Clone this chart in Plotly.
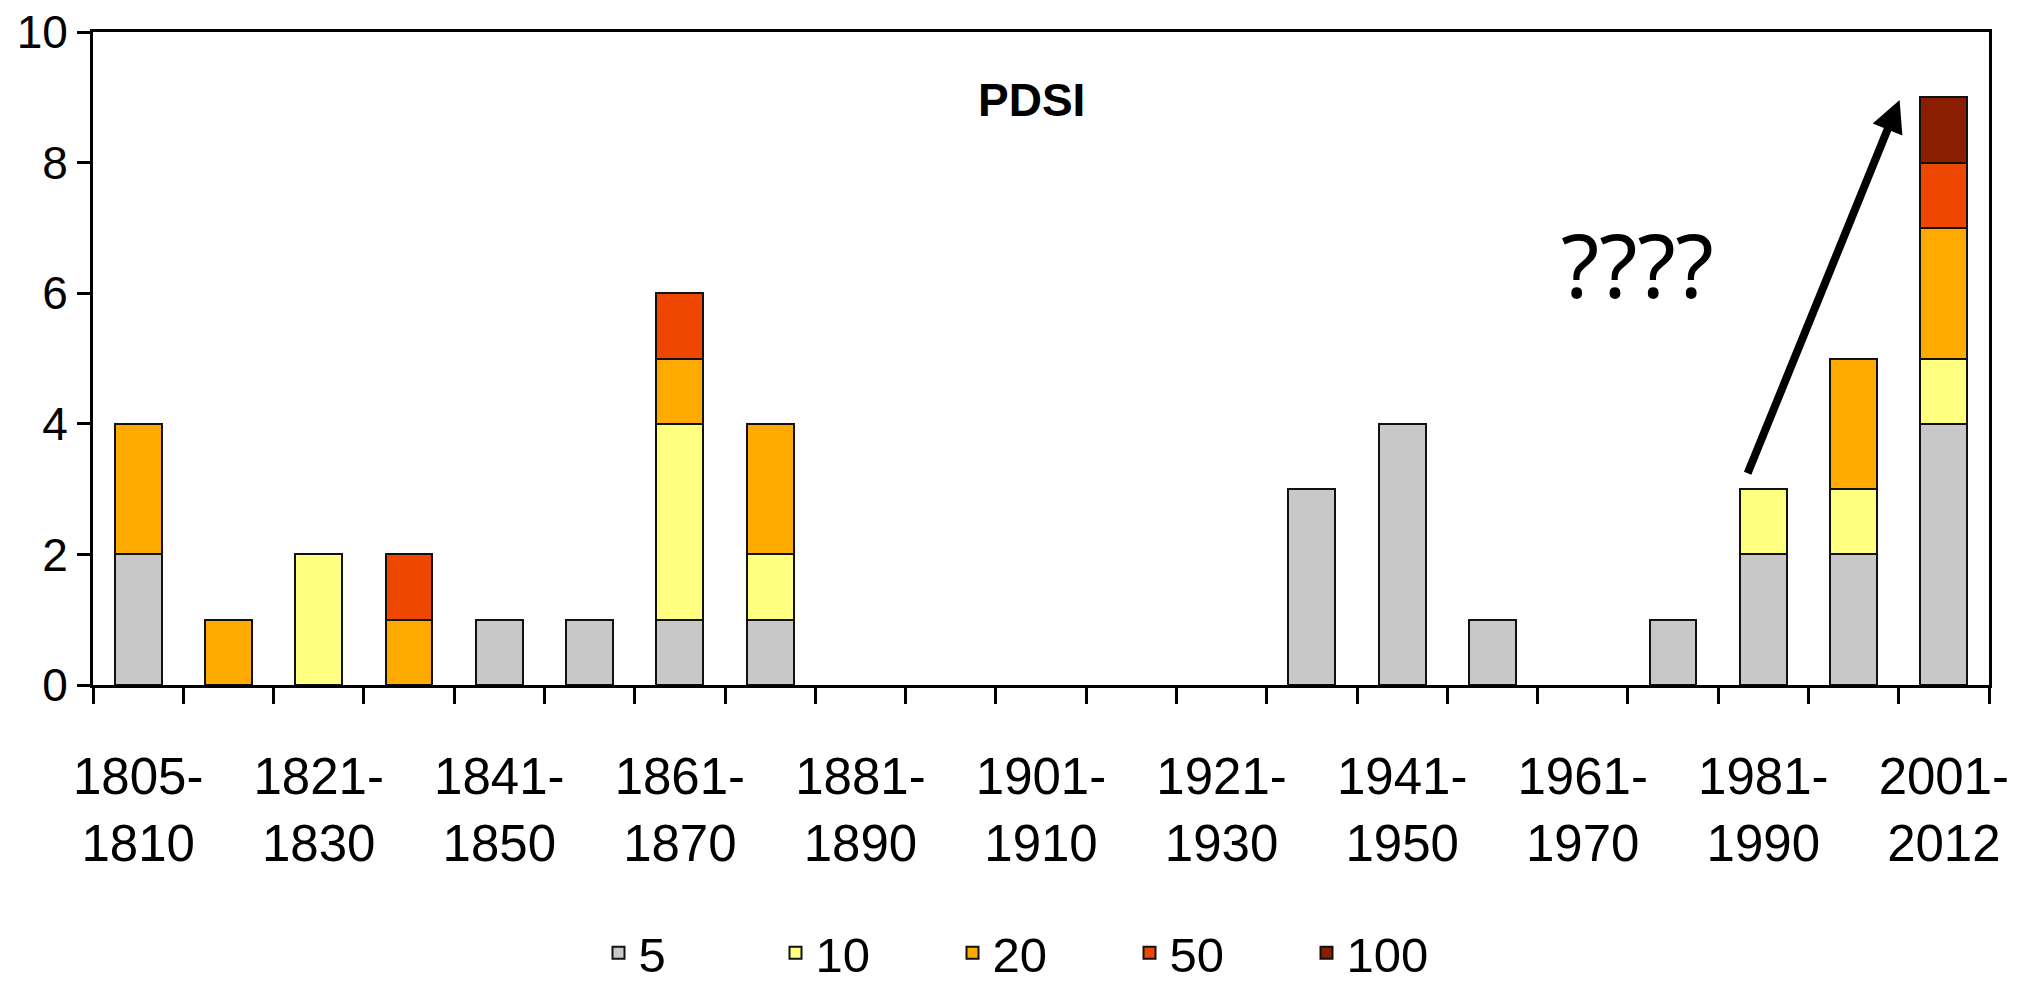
import plotly.graph_objects as go

categories = ["1805-1810", "1811-1820", "1821-1830", "1831-1840", "1841-1850",
              "1851-1860", "1861-1870", "1871-1880", "1881-1890", "1891-1900",
              "1901-1910", "1911-1920", "1921-1930", "1931-1940", "1941-1950",
              "1951-1960", "1961-1970", "1971-1980", "1981-1990", "1991-2000",
              "2001-2012"]

s5   = [2, None, None, None, 1, 1, 1, 1, None, None, None, None, None, 3, 4, 1, None, 1, 2, 2, 4]
s10  = [None, None, 2, None, None, None, 3, 1, None, None, None, None, None, None, None, None, None, None, 1, 1, 1]
s20  = [2, 1, None, 1, None, None, 1, 2, None, None, None, None, None, None, None, None, None, None, None, 2, 2]
s50  = [None, None, None, 1, None, None, 1, None, None, None, None, None, None, None, None, None, None, None, None, None, 1]
s100 = [None] * 20 + [1]

series_names = ["5", "10", "20", "50", "100"]
series_values = [s5, s10, s20, s50, s100]
series_colors = ["#C8C8C8", "#FFFF80", "#FFAA00", "#EE4800", "#8A1E00"]

label_every = 2
tick_labels = [c.replace("-", "-<br>") for c in categories[::label_every]]

x = list(range(len(categories)))

FONT = "Liberation Sans Narrow, Arial Narrow, Liberation Sans, Arial, sans-serif"

fig = go.Figure()
for name, vals, col in zip(series_names, series_values, series_colors):
    fig.add_trace(go.Bar(
        x=x, y=vals, name=name, width=0.52,
        marker=dict(color=col, line=dict(color="#111111", width=2)),
    ))

# the page body has an 8px margin, so the figure is sized/offset to compensate
fig.update_layout(
    width=2013, height=974,
    barmode="stack",
    plot_bgcolor="white", paper_bgcolor="white",
    margin=dict(l=85, r=32, t=24, b=297),
    font=dict(family=FONT, size=51, color="black"),
    legend=dict(orientation="h", x=0.5, xanchor="center", xref="paper",
                y=0.03, yanchor="middle", yref="container",
                font=dict(size=49), entrywidth=132, entrywidthmode="pixels",
                traceorder="normal"),
    annotations=[
        dict(text="<b>PDSI</b>", x=0.495, xref="paper", y=0.896, yref="paper",
             xanchor="center", yanchor="middle",
             showarrow=False, font=dict(family="Liberation Sans, Arial, sans-serif", size=46)),
        dict(text="????", x=16.61, xref="x", y=6.45, yref="y", showarrow=False,
             xanchor="center", yanchor="middle",
             font=dict(family="Noto Sans, Open Sans, sans-serif", size=88)),
        dict(x=19.51, y=8.96, xref="x", yref="y", ax=17.82, ay=3.22, axref="x", ayref="y",
             showarrow=True, arrowhead=2, arrowsize=0.8, arrowwidth=8, arrowcolor="black",
             text=""),
    ],
)

fig.update_xaxes(
    range=[-0.5, len(categories) - 0.5], automargin=False, ticklabeloverflow="allow",
    tickmode="array", tickvals=x[::label_every], ticktext=tick_labels,
    ticks="", ticklabelstandoff=45,
    minor=dict(tickmode="array", tickvals=[i - 0.5 for i in range(len(categories) + 1)],
               ticks="outside", ticklen=16, tickwidth=3, tickcolor="black"),
    showline=True, linewidth=3, linecolor="black", mirror=True,
    showgrid=False, zeroline=False,
)
fig.update_yaxes(
    range=[0, 10], dtick=2, ticks="outside", ticklen=13, tickwidth=3, tickcolor="black",
    automargin=False, ticklabeloverflow="allow", tickfont=dict(size=46),
    showline=True, linewidth=3, linecolor="black", mirror=True,
    showgrid=False, zeroline=False,
)

fig.write_html("out.html")
